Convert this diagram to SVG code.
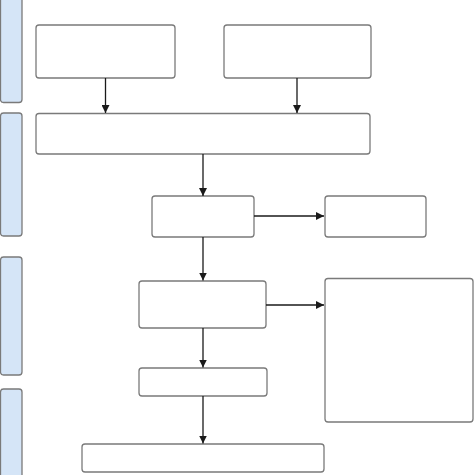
<svg xmlns="http://www.w3.org/2000/svg" width="474" height="475" viewBox="0 0 474 475">
<style>
.box{fill:#fff;stroke:#7a7a7a;stroke-width:1.3}
.lane{fill:#d5e5f7;stroke:#7a7a7a;stroke-width:1.3}
.edge{stroke:#1a1a1a;stroke-width:1.3;fill:none;marker-end:url(#ah)}
</style>
<defs>
<marker id="ah" viewBox="0 0 10 10" refX="10" refY="5" markerWidth="8" markerHeight="8" markerUnits="userSpaceOnUse" orient="auto">
<path d="M0,0 L10,5 L0,10 Z" fill="#1a1a1a"/>
</marker>
</defs>
<rect width="474" height="475" fill="#fff"/>
<g id="lanes">
<rect class="lane" x="0.5" y="-4" width="21.5" height="106.5" rx="3"/>
<rect class="lane" x="0.5" y="113" width="21.5" height="123" rx="3"/>
<rect class="lane" x="0.5" y="257" width="21.5" height="118" rx="3"/>
<rect class="lane" x="0.5" y="389" width="21.5" height="95" rx="3"/>
</g>
<g id="nodeA"><rect class="box" x="36" y="25" width="139" height="53" rx="3"/></g>
<g id="nodeB"><rect class="box" x="224" y="25" width="147" height="53" rx="3"/></g>
<g id="nodeC"><rect class="box" x="36" y="113.5" width="334" height="40.5" rx="3"/></g>
<g id="nodeD"><rect class="box" x="152" y="196" width="102" height="41" rx="3"/></g>
<g id="nodeE"><rect class="box" x="325" y="196" width="101" height="41" rx="3"/></g>
<g id="nodeF"><rect class="box" x="139" y="281" width="127" height="47" rx="3"/></g>
<g id="nodeG"><rect class="box" x="325" y="278.5" width="148" height="143.5" rx="3"/></g>
<g id="nodeH"><rect class="box" x="139" y="368" width="128" height="28" rx="3"/></g>
<g id="nodeI"><rect class="box" x="82" y="444" width="242" height="28" rx="3"/></g>
<g id="connectors">
<line class="edge" x1="105.5" y1="78" x2="105.5" y2="113"/>
<line class="edge" x1="297" y1="78" x2="297" y2="113"/>
<line class="edge" x1="203" y1="154" x2="203" y2="196"/>
<line class="edge" x1="254" y1="216" x2="324" y2="216"/>
<line class="edge" x1="203" y1="237" x2="203" y2="280.5"/>
<line class="edge" x1="266" y1="305" x2="324" y2="305"/>
<line class="edge" x1="203" y1="328" x2="203" y2="367.5"/>
<line class="edge" x1="203" y1="396" x2="203" y2="443.5"/>
</g>
</svg>
